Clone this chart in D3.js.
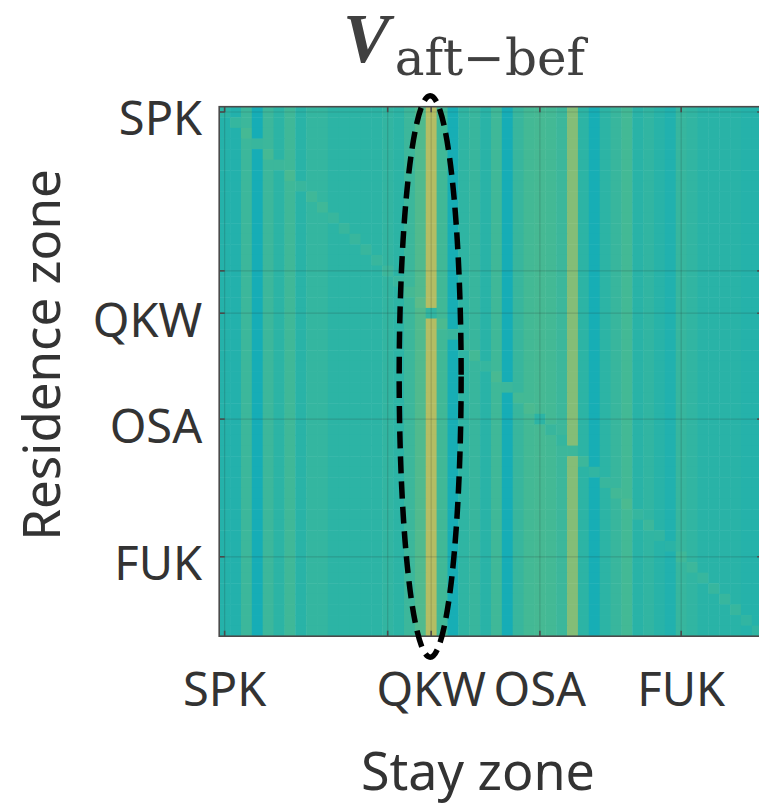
<!DOCTYPE html>
<html>
<head>
<meta charset="utf-8">
<script src="https://cdn.jsdelivr.net/npm/d3@7"></script>
<style>
  body { margin: 0; background: #fff; }
  svg { display: block; }
</style>
</head>
<body>
<svg id="chart" width="759" height="805"></svg>
<script>
// zones on both axes, in matrix order (0 = SPK ... 49)
const zoneCount = 50;
const tickZones = [0, 15, 19, 29, 42];
const tickLabels = ['SPK', '', 'QKW', 'OSA', 'FUK'];

// V aft-bef, value of each stay-zone column (off-diagonal cells)
const colValues = [
  0.22, 0.20, 0.40, 0.05, 0.40, 0.30, 0.42, 0.27, 0.35, 0.35,
  0.30, 0.30, 0.30, 0.30, 0.30, 0.34, 0.30, 0.40, 0.52, 0.95,
  0.43, 0.06, 0.32, 0.38, 0.27, 0.42, 0.05, 0.38, 0.45, 0.47,
  0.45, 0.40, 0.72, 0.30, 0.06, 0.30, 0.38, 0.45, 0.27, 0.33,
  0.25, 0.17, 0.37, 0.33, 0.27, 0.27, 0.27, 0.27, 0.22, 0.22
];
// diagonal cells (residence zone == stay zone)
const diagValues = [
  0.30, 0.36, 0.46, 0.38, 0.46, 0.40, 0.48, 0.38, 0.42, 0.42,
  0.38, 0.38, 0.38, 0.38, 0.38, 0.40, 0.38, 0.46, 0.56, 0.33,
  0.50, 0.38, 0.40, 0.45, 0.36, 0.48, 0.40, 0.45, 0.50, 0.30,
  0.38, 0.36, 0.40, 0.40, 0.33, 0.38, 0.44, 0.50, 0.36, 0.40,
  0.34, 0.28, 0.42, 0.40, 0.37, 0.37, 0.37, 0.37, 0.33, 0.33
];

const colorStops = [0, 0.3, 0.5, 0.72, 0.95];
const colorRange = ['#12acb9', '#2cb4a5', '#4bba90', '#84bd77', '#b3bd64'];

const svg = d3.select('#chart');
const margin = { left: 219.2, top: 106.7 };
const plotW = 543.5, plotH = 529.5;
const zones = d3.range(zoneCount);

const x = d3.scaleBand().domain(zones).range([margin.left, margin.left + plotW]);
const y = d3.scaleBand().domain(zones).range([margin.top, margin.top + plotH]);
const color = d3.scaleLinear().domain(colorStops).range(colorRange).clamp(true);

// build the matrix from the column / diagonal values
const cells = [];
zones.forEach(r => {
  zones.forEach(c => {
    cells.push({ r, c, v: r === c ? diagValues[c] : colValues[c] });
  });
});

svg.append('g')
  .selectAll('rect')
  .data(cells)
  .join('rect')
  .attr('x', d => x(d.c))
  .attr('y', d => y(d.r))
  .attr('width', x.bandwidth() + 0.5)
  .attr('height', y.bandwidth() + 0.5)
  .attr('fill', d => color(d.v));

// grid lines on top of the image
const grid = svg.append('g').attr('stroke', '#262626').attr('stroke-opacity', 0.17).attr('stroke-width', 1.2);
tickZones.forEach(z => {
  const gx = x(z) + x.bandwidth() / 2;
  const gy = y(z) + y.bandwidth() / 2;
  grid.append('line').attr('x1', gx).attr('x2', gx).attr('y1', margin.top).attr('y2', margin.top + plotH);
  grid.append('line').attr('y1', gy).attr('y2', gy).attr('x1', margin.left).attr('x2', margin.left + plotW);
});

const fontFam = '"Noto Sans", "Open Sans", sans-serif';
const tickLen = 5.5;

function styleAxis(g) {
  g.selectAll('.tick line').attr('stroke', '#4a4a4a').attr('stroke-width', 1.6);
  g.selectAll('.tick text').attr('fill', '#333').style('font-family', fontFam).style('font-size', '47px');
}

svg.append('g')
  .attr('transform', `translate(0,${margin.top + plotH})`)
  .call(d3.axisBottom(x).tickValues(tickZones).tickFormat((d, i) => tickLabels[i])
    .tickSizeInner(-tickLen).tickSizeOuter(0).tickPadding(36))
  .call(styleAxis)
  .call(g => g.select('.domain').remove());

svg.append('g')
  .attr('transform', `translate(0,${margin.top})`)
  .call(d3.axisTop(x).tickValues(tickZones).tickFormat('')
    .tickSizeInner(-tickLen).tickSizeOuter(0))
  .call(styleAxis)
  .call(g => g.select('.domain').remove());

svg.append('g')
  .attr('transform', `translate(${margin.left},0)`)
  .call(d3.axisLeft(y).tickValues(tickZones).tickFormat((d, i) => tickLabels[i])
    .tickSizeInner(-tickLen).tickSizeOuter(0).tickPadding(17))
  .call(styleAxis)
  .call(g => g.select('.domain').remove())
  .call(g => g.selectAll('.tick text').attr('dy', '0.5em'));

svg.append('g')
  .attr('transform', `translate(${margin.left + plotW},0)`)
  .call(d3.axisRight(y).tickValues(tickZones).tickFormat('')
    .tickSizeInner(-tickLen).tickSizeOuter(0))
  .call(styleAxis)
  .call(g => g.select('.domain').remove());

// box
svg.append('rect')
  .attr('x', margin.left).attr('y', margin.top)
  .attr('width', plotW).attr('height', plotH)
  .attr('fill', 'none').attr('stroke', '#4a4a4a').attr('stroke-width', 1.6);

// axis titles
svg.append('text')
  .attr('x', 478).attr('y', 790)
  .attr('text-anchor', 'middle')
  .attr('fill', '#333')
  .style('font-family', fontFam).style('font-size', '52px')
  .text('Stay zone');

svg.append('text')
  .attr('transform', 'translate(60,355) rotate(-90)')
  .attr('text-anchor', 'middle')
  .attr('fill', '#333')
  .style('font-family', fontFam).style('font-size', '51px')
  .text('Residence zone');

// title V_aft-bef
const title = svg.append('text').attr('x', 343).attr('y', 62).attr('fill', '#404040');
title.append('tspan')
  .style('font-family', '"Liberation Serif", serif')
  .style('font-weight', 'bold').style('font-style', 'italic')
  .style('font-size', '70px')
  .text('V');
title.append('tspan')
  .attr('dx', 5).attr('dy', 13)
  .style('font-family', '"DejaVu Serif", serif')
  .style('font-size', '50px')
  .text('aft\u2212bef');

// dashed ellipse around the QKW stay-zone column
svg.append('ellipse')
  .attr('cx', x(19) + x.bandwidth() / 2 - 1)
  .attr('cy', margin.top + plotH / 2 + 5)
  .attr('rx', x.bandwidth() * 2.85)
  .attr('ry', plotH / 2 + 16)
  .attr('fill', 'none')
  .attr('stroke', '#000')
  .attr('stroke-width', 5.5)
  .attr('stroke-dasharray', '17 8');
</script>
</body>
</html>
